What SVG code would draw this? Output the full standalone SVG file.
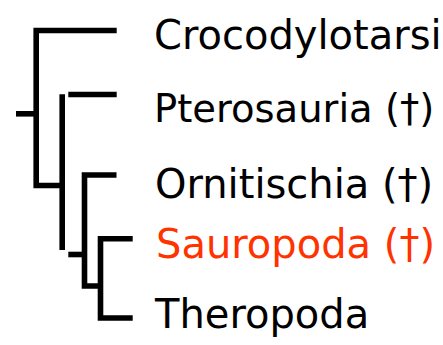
<svg xmlns="http://www.w3.org/2000/svg" width="443" height="345" viewBox="0 0 443 345">
<style>
.br{fill:none;stroke:#000;stroke-width:5.6;stroke-linejoin:miter;stroke-linecap:butt}
.lb{font-family:"DejaVu Sans","Liberation Sans",sans-serif;font-size:40px;fill:#000}
.ex{fill:#ff3300}
</style>
<rect width="443" height="345" fill="#fff"/>
<g id="connectors">
<path class="br" d="M16,113.8 H36.2"/>
<path class="br" d="M116.7,30.5 H36.2 V185.5 H62.2"/>
<path class="br" d="M62.2,94.3 V250"/>
<path class="br" d="M68.3,94.5 H116.7"/>
<path class="br" d="M68.3,254.5 H84.5"/>
<path class="br" d="M116.5,175 H84.5 V286 H100.5"/>
<path class="br" d="M132.7,238.8 H100.5 V318 H132.7"/>
</g>
<g id="crocodylotarsi"><text class="lb" x="154" y="49">Crocodylotarsi</text></g>
<g id="pterosauria"><text class="lb" x="154" y="122" style="font-size:38.5px">Pterosauria (†)</text></g>
<g id="ornitischia"><text class="lb" x="155" y="198">Ornitischia (†)</text></g>
<g id="sauropoda"><text class="lb ex" x="156" y="258">Sauropoda (†)</text></g>
<g id="theropoda"><text class="lb" x="155" y="328">Theropoda</text></g>
</svg>
